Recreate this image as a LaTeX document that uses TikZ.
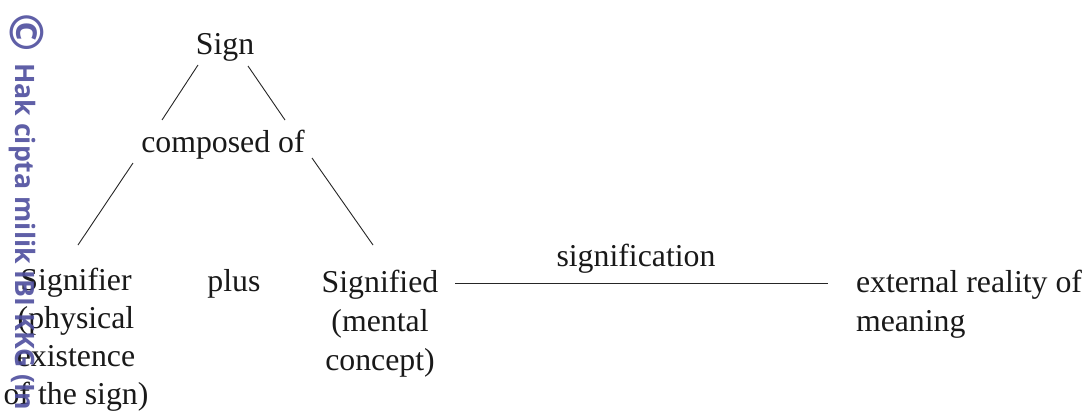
\documentclass[tikz,border=0pt]{standalone}
\usepackage{fontspec}
\setmainfont{Liberation Serif}
\newfontfamily\wmfont{Open Sans}
\definecolor{wmblue}{HTML}{4E4E9E}
\tikzset{
  lbl/.style={inner sep=0pt, outer sep=0pt, font=\fontsize{31.8}{39}\selectfont, text=black!90},
  conn/.style={draw=black!85, line width=0.9pt},
  wm/.style={inner sep=0pt, text=wmblue, opacity=0.9, rotate=-90, font=\wmfont\bfseries\fontsize{26.7}{26.7}\selectfont}
}
\begin{document}
\begin{tikzpicture}[x=1pt,y=-1pt]
\useasboundingbox (0,0) rectangle (1089,412);
\fill[white] (0,0) rectangle (1089,412);
% text nodes
\node[lbl, anchor=base] (sign) at (225,55) {Sign};
\node[lbl, anchor=base] (comp) at (223,152) {composed of};
\node[lbl, anchor=north, align=center, font=\fontsize{31.8}{38.2}\selectfont] (signifier) at (76,268) {Signifier\\(physical\\existence\\of the sign)};
\node[lbl, anchor=base] (plus) at (234,291) {plus};
\node[lbl, anchor=north, align=center] (signified) at (380,270) {Signified\\(mental\\concept)};
\node[lbl, anchor=base] (signification) at (636,266) {signification};
\node[lbl, anchor=north west, align=left] (external) at (856,270) {external reality of\\meaning};
% connector end points
\coordinate (a1) at (198,65);  \coordinate (a2) at (162,120);
\coordinate (b1) at (248,66);  \coordinate (b2) at (285,120);
\coordinate (c1) at (133,163); \coordinate (c2) at (78,245);
\coordinate (d1) at (312,158); \coordinate (d2) at (373,245);
\coordinate (e1) at (455,283); \coordinate (e2) at (828,283);
\draw[conn] (a1) -- (a2);
\draw[conn] (b1) -- (b2);
\draw[conn] (c1) -- (c2);
\draw[conn] (d1) -- (d2);
\draw[conn] (e1) -- (e2);
% watermark
\begin{scope}
\clip (0,0) rectangle (1089,412);
\node[wm, anchor=center, font=\wmfont\bfseries\fontsize{46}{46}\selectfont] (copy) at (27,33) {©};
\node[wm, anchor=base west] (wmtext) at (15,63) {Hak cipta milik IBI KKG (In};
\end{scope}
\end{tikzpicture}
\end{document}
